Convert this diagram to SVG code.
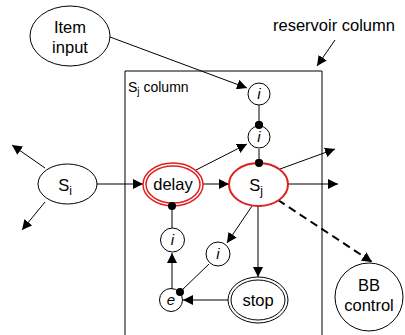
<svg xmlns="http://www.w3.org/2000/svg" width="405" height="335" viewBox="0 0 405 335">
<defs>
<marker id="ah" viewBox="0 0 10 10" refX="10" refY="5" markerWidth="10" markerHeight="10" markerUnits="userSpaceOnUse" orient="auto">
<path d="M0,0 L10,5 L0,10 z" fill="#000"/>
</marker>
<marker id="dot" viewBox="0 0 10 10" refX="5" refY="5" markerWidth="8" markerHeight="8" markerUnits="userSpaceOnUse">
<circle cx="5" cy="5" r="5" fill="#000"/>
</marker>
<style>
.n{fill:#fff;stroke:#000;stroke-width:1}
.r{fill:#fff;stroke:#e02020;stroke-width:2}
.t{font-family:"Liberation Sans",Arial,sans-serif;font-size:16.5px;fill:#000;text-anchor:middle}
.it{font-family:"Liberation Sans",Arial,sans-serif;font-size:15px;font-style:italic;fill:#000;text-anchor:middle}
.c{stroke:#000;stroke-width:1;fill:none}
.d{stroke:#000;stroke-width:2;fill:none;stroke-dasharray:8,5}
</style>
</defs>
<rect width="405" height="335" fill="#fff"/>
<g id="reservoir">
<path d="M125,340 V71 H322 V340" class="c"/>
<text x="334" y="31" class="t">reservoir column</text>
<text x="128" y="92" font-family="Liberation Sans,Arial,sans-serif" font-size="14" fill="#000">S<tspan font-size="10" dy="3">j</tspan><tspan dy="-3"> column</tspan></text>
</g>
<g id="connectors">
<line x1="335" y1="40" x2="317" y2="66" class="c" marker-end="url(#ah)"/>
<line x1="110" y1="37" x2="247" y2="88" class="c" marker-end="url(#ah)"/>
<line x1="259" y1="105" x2="259" y2="125" class="c" marker-end="url(#dot)"/>
<line x1="259" y1="149" x2="259" y2="163" class="c" marker-end="url(#dot)"/>
<line x1="45" y1="168" x2="12" y2="145" class="c" marker-end="url(#ah)"/>
<line x1="45" y1="202" x2="22" y2="230" class="c" marker-end="url(#ah)"/>
<line x1="97" y1="184" x2="143" y2="184" class="c" marker-end="url(#ah)"/>
<line x1="196" y1="170" x2="247" y2="144" class="c" marker-end="url(#ah)"/>
<line x1="203" y1="184" x2="229" y2="184" class="c" marker-end="url(#ah)"/>
<line x1="280" y1="169" x2="335" y2="149" class="c" marker-end="url(#ah)"/>
<line x1="288" y1="184" x2="338" y2="184" class="c" marker-end="url(#ah)"/>
<line x1="278" y1="200" x2="372" y2="262" class="d" marker-end="url(#ah)"/>
<line x1="172" y1="206" x2="172" y2="228" class="c"/>
<line x1="172" y1="289" x2="172" y2="253" class="c" marker-end="url(#ah)"/>
<line x1="252" y1="206" x2="227" y2="243" class="c" marker-end="url(#ah)"/>
<line x1="209" y1="264" x2="180" y2="292" class="c"/>
<line x1="258" y1="206" x2="258" y2="277" class="c" marker-end="url(#ah)"/>
<line x1="228" y1="300" x2="183" y2="300" class="c" marker-end="url(#ah)"/>
</g>
<g id="item-input">
<ellipse cx="70" cy="36" rx="40" ry="30" class="n"/>
<text x="70" y="33" class="t">Item</text>
<text x="70" y="53" class="t">input</text>
</g>
<g id="i-top">
<circle cx="259" cy="94" r="11" class="n"/>
<text x="259" y="99" class="it">i</text>
</g>
<g id="i-second">
<circle cx="259" cy="137" r="11" class="n"/>
<text x="259" y="142" class="it">i</text>
</g>
<g id="si">
<ellipse cx="67.5" cy="184" rx="29.5" ry="20" class="n"/>
<text x="65" y="191" class="t" font-size="18">S<tspan font-size="12" dy="4">i</tspan></text>
</g>
<g id="delay">
<ellipse cx="173" cy="184.5" rx="30" ry="21.5" fill="#fff" stroke="#e02020" stroke-width="1.5"/>
<ellipse cx="173" cy="184.5" rx="27" ry="18.5" fill="none" stroke="#e02020" stroke-width="1.5"/>
<text x="173" y="190" class="t">delay</text>
</g>
<g id="sj">
<ellipse cx="258.5" cy="184.5" rx="29.5" ry="21.5" class="r"/>
<text x="256" y="191" class="t" font-size="18">S<tspan font-size="12" dy="4">j</tspan></text>
</g>
<g id="dots">
<circle cx="259" cy="125" r="4" fill="#000"/>
<circle cx="259" cy="163" r="4" fill="#000"/>
<circle cx="172" cy="206" r="4" fill="#000"/>
</g>
<g id="i-third">
<circle cx="172.5" cy="240" r="12" class="n"/>
<text x="172.5" y="245" class="it">i</text>
</g>
<g id="i-mid">
<circle cx="218" cy="254" r="12" class="n"/>
<text x="218" y="259" class="it">i</text>
</g>
<g id="e">
<circle cx="171" cy="300" r="11.5" class="n"/>
<text x="171" y="305" class="it">e</text>
<circle cx="180" cy="292" r="4" fill="#000"/>
</g>
<g id="stop">
<ellipse cx="258" cy="300" rx="30" ry="23" class="n"/>
<ellipse cx="258" cy="300" rx="27" ry="20" class="n"/>
<text x="258" y="306" class="t">stop</text>
</g>
<g id="bb-control">
<ellipse cx="369" cy="297" rx="34" ry="34" class="n"/>
<text x="369" y="291" class="t">BB</text>
<text x="369" y="311" class="t">control</text>
</g>
</svg>
